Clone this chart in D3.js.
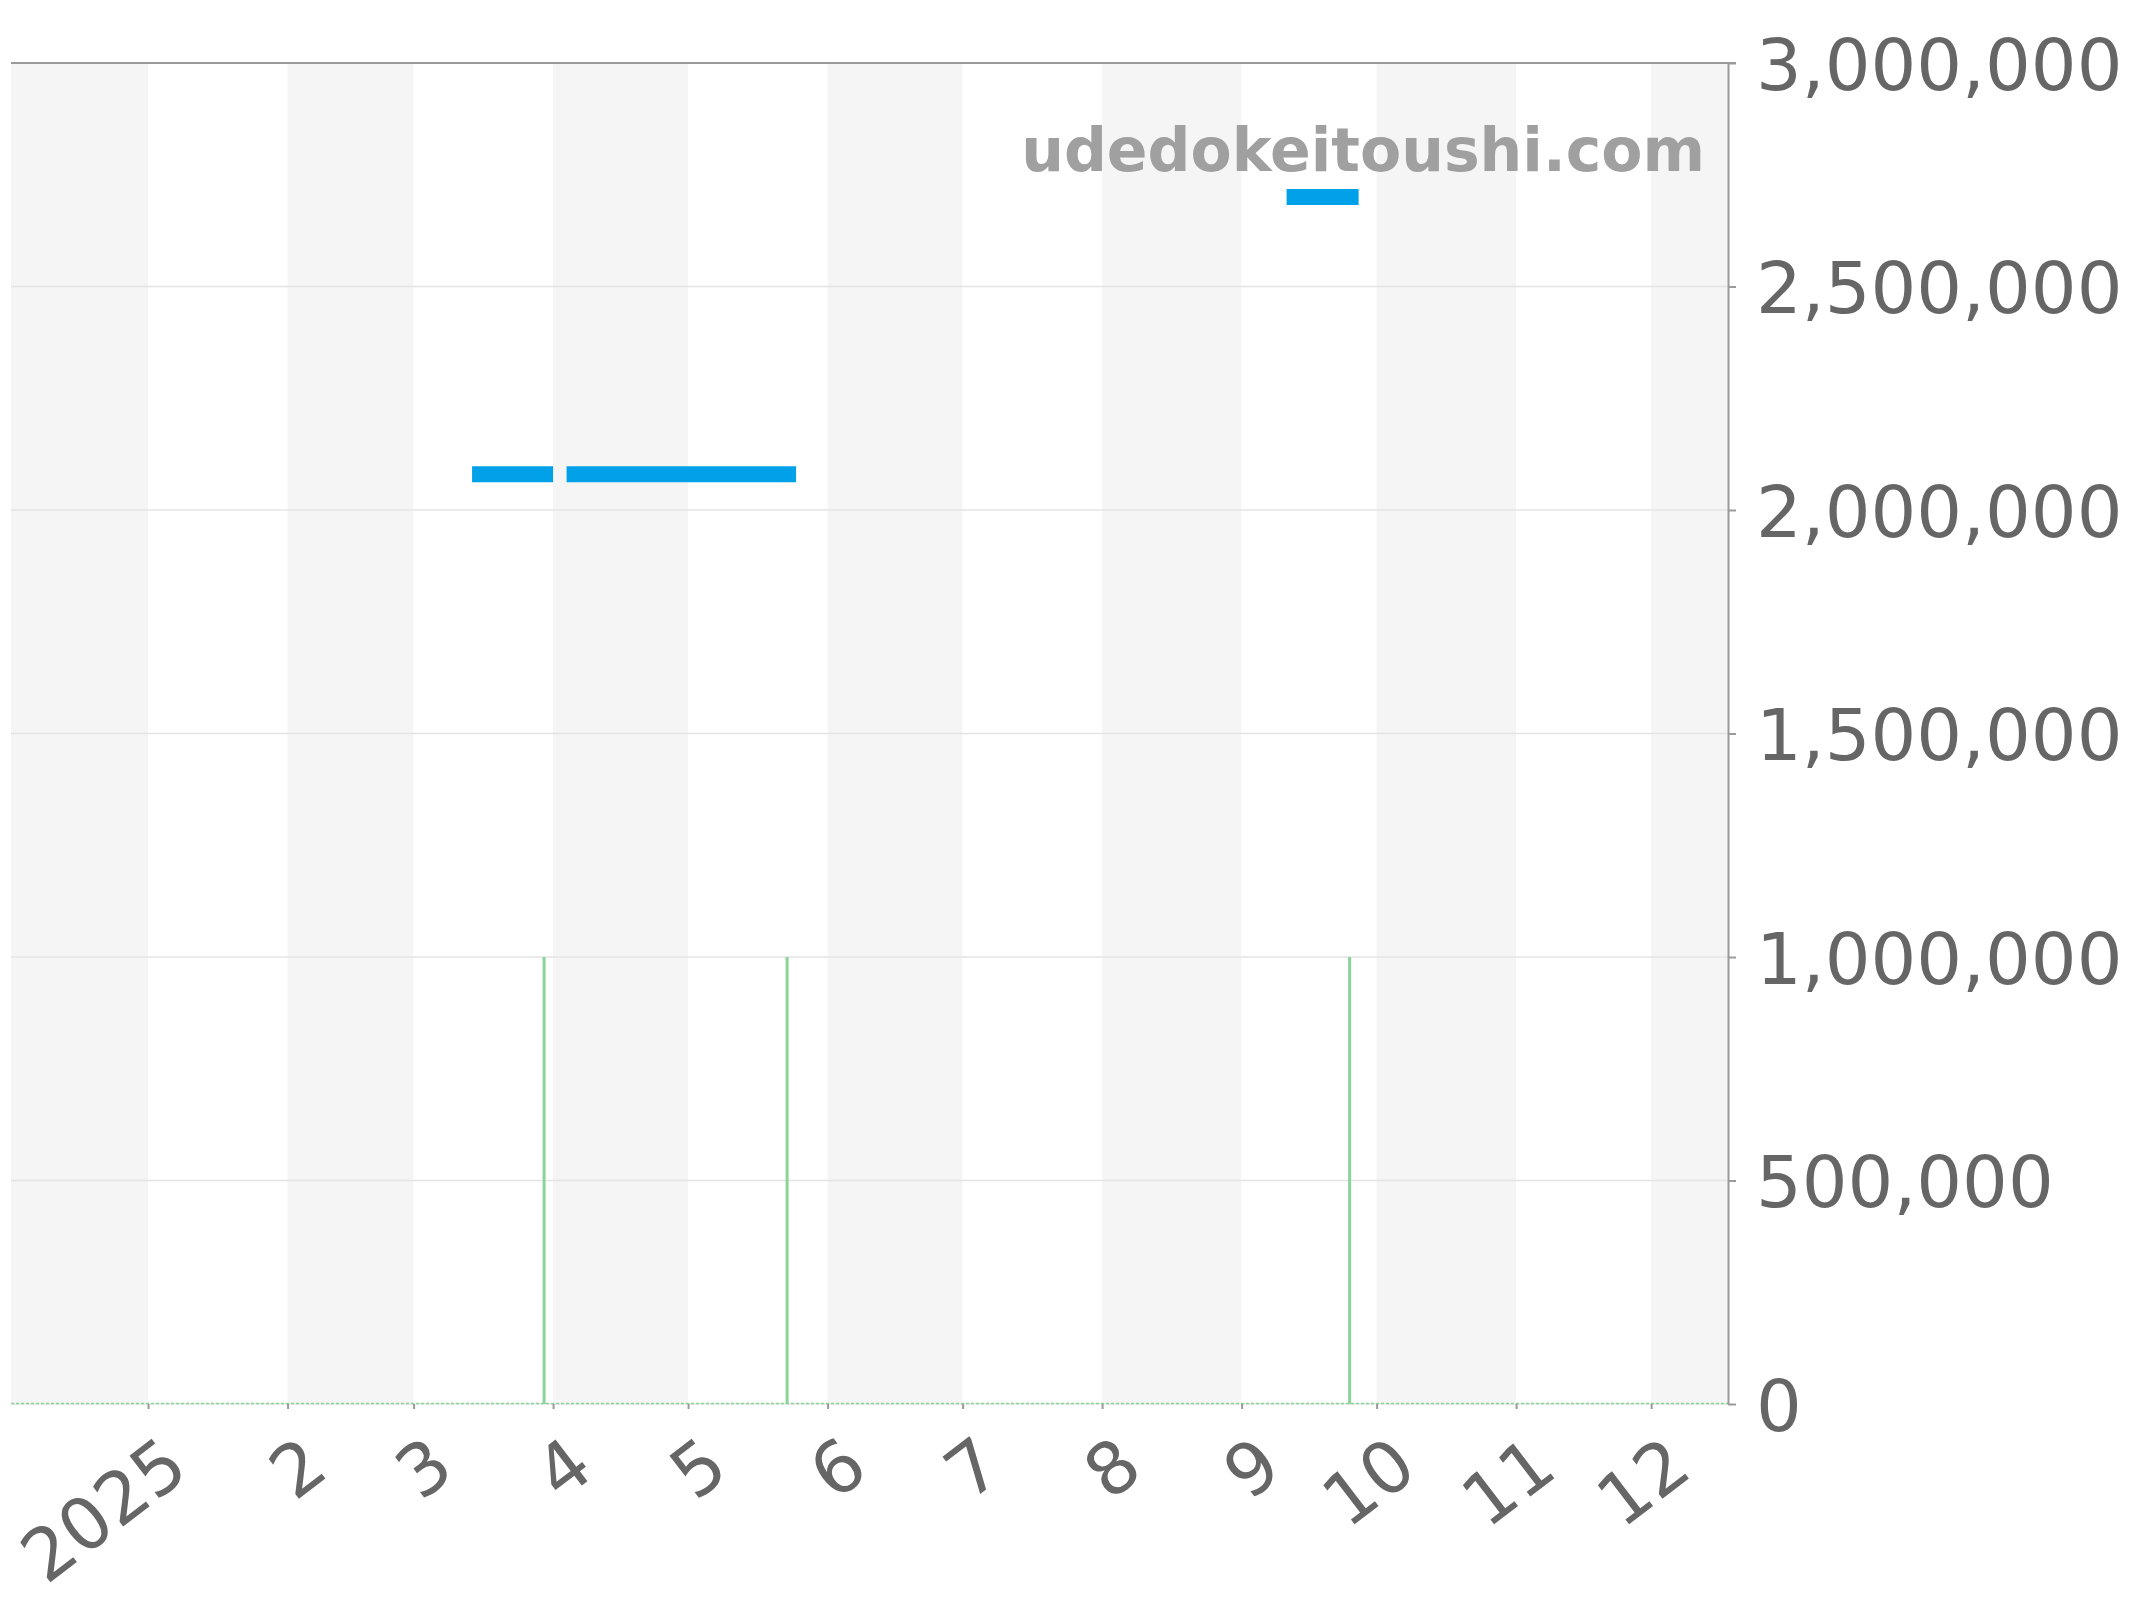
<!DOCTYPE html>
<html>
<head>
<meta charset="utf-8">
<script src="https://cdn.jsdelivr.net/npm/d3@7"></script>
<style>
  body { margin: 0; background: #fff; }
  text { font-family: "DejaVu Sans", sans-serif; }
</style>
</head>
<body>
<div id="chart"></div>
<script>
//All the variables
var priceDates  = ["2025-03-14", "2025-04-01", "2025-04-02", "2025-04-04", "2025-05-25", "2025-05-26", "2025-09-11", "2025-09-27"];
var priceValues = [2080000, 2080000, null, 2080000, 2080000, null, 2700000, 2700000];

var volumeDates  = ["2025-03-30", "2025-05-23", "2025-09-25"];
var volumeValues = [1000000, 1000000, 1000000];

var monthTicks  = ["2025-01-01", "2025-02-01", "2025-03-01", "2025-04-01", "2025-05-01", "2025-06-01",
                   "2025-07-01", "2025-08-01", "2025-09-01", "2025-10-01", "2025-11-01", "2025-12-01"];
var monthLabels = ["2025", "2", "3", "4", "5", "6", "7", "8", "9", "10", "11", "12"];

var yTicks = [0, 500000, 1000000, 1500000, 2000000, 2500000, 3000000];

var W = 2144, H = 1600;
var plotLeft = 11, plotRight = 1728, plotTop = 63, plotBottom = 1404;

var parse = d3.timeParse("%Y-%m-%d");

var svg = d3.select("#chart")
  .append("svg")
    .attr("width", W)
    .attr("height", H);

// Scales
var x = d3.scaleTime()
  .domain([new Date(2024, 11, 1, 13), new Date(2025, 11, 18, 2)])
  .range([plotLeft, plotRight]);

var y = d3.scaleLinear()
  .domain([0, 3000000])
  .range([plotBottom, plotTop]);

svg.append("clipPath").attr("id", "plot")
  .append("rect")
    .attr("x", plotLeft).attr("y", plotTop)
    .attr("width", plotRight - plotLeft).attr("height", plotBottom - plotTop);

// month bands
var months = d3.timeMonth.range(d3.timeMonth.floor(x.domain()[0]), x.domain()[1]);
svg.append("g")
    .attr("clip-path", "url(#plot)")
  .selectAll("rect")
  .data(months)
  .enter()
  .append("rect")
    .attr("x", function(d) { return x(d); })
    .attr("y", plotTop)
    .attr("width", function(d) { return x(d3.timeMonth.offset(d, 1)) - x(d); })
    .attr("height", plotBottom - plotTop)
    .attr("fill", function(d) { return d.getMonth() % 2 == 1 ? "#f5f5f5" : "#ffffff"; });

// grid
svg.append("g").selectAll("line")
  .data(yTicks)
  .enter()
  .append("line")
    .attr("x1", plotLeft).attr("x2", plotRight)
    .attr("y1", function(d) { return y(d); })
    .attr("y2", function(d) { return y(d); })
    .attr("stroke", "#e4e4e4")
    .attr("stroke-width", 1.5);

// top border
svg.append("line")
  .attr("x1", plotLeft).attr("x2", plotRight + 8)
  .attr("y1", y(3000000)).attr("y2", y(3000000))
  .attr("stroke", "#9a9a9a")
  .attr("stroke-width", 2);

// watermark
svg.append("text")
  .attr("x", 1705)
  .attr("y", 171)
  .attr("text-anchor", "end")
  .attr("font-size", 60)
  .attr("font-weight", "bold")
  .attr("fill", "#a0a0a0")
  .text("udedokeitoushi.com");

// volume zero line (dashed)
svg.append("line")
  .attr("x1", plotLeft).attr("x2", plotRight)
  .attr("y1", y(0) - 0.5).attr("y2", y(0) - 0.5)
  .attr("stroke", "#8ad49a")
  .attr("stroke-width", 1.5)
  .attr("stroke-dasharray", "3,2");

// volume bars
svg.selectAll("myVol")
  .data(volumeDates)
  .enter()
  .append("rect")
    .attr("x", function(d) { return x(parse(d)) - 1.5; })
    .attr("y", function(d, i) { return y(volumeValues[i]); })
    .attr("width", 3)
    .attr("height", function(d, i) { return y(0) - y(volumeValues[i]); })
    .attr("fill", "#8ad49a");

// price line
var pts = priceDates.map(function(d, i) { return [parse(d), priceValues[i]]; });
var line = d3.line()
  .defined(function(d) { return d[1] != null; })
  .x(function(d) { return x(d[0]); })
  .y(function(d) { return y(d[1]); });

svg.append("path")
  .datum(pts)
  .attr("d", line)
  .attr("fill", "none")
  .attr("stroke", "#00a1e9")
  .attr("stroke-width", 16)
  .attr("stroke-linecap", "butt");

// Y axis (right)
var yAxis = svg.append("g")
  .attr("transform", "translate(" + plotRight + ",0)")
  .call(d3.axisRight(y).tickValues(yTicks).tickSize(8).tickSizeOuter(0).tickPadding(20).tickFormat(d3.format(",")));
yAxis.select(".domain").attr("stroke", "#9a9a9a").attr("stroke-width", 2);
yAxis.selectAll(".tick line").attr("stroke", "#9a9a9a").attr("stroke-width", 2);
yAxis.selectAll("text")
  .attr("dy", "0.365em")
  .attr("font-size", 72)
  .attr("font-family", "DejaVu Sans")
  .attr("fill", "#666");

// X axis
var xAxis = svg.append("g")
  .attr("transform", "translate(0," + plotBottom + ")")
  .call(d3.axisBottom(x).tickValues(monthTicks.map(parse)).tickSize(5).tickSizeOuter(0)
    .tickFormat(function(d, i) { return monthLabels[i]; }));
xAxis.select(".domain").remove();
xAxis.selectAll(".tick line").attr("stroke", "#999").attr("stroke-width", 2);
xAxis.selectAll("text")
  .attr("x", 0).attr("y", 0).attr("dy", 0)
  .attr("transform", "translate(43,70) rotate(-37.5)")
  .style("text-anchor", "end")
  .attr("font-size", 72)
  .attr("font-family", "DejaVu Sans")
  .attr("fill", "#666");
</script>
</body>
</html>
